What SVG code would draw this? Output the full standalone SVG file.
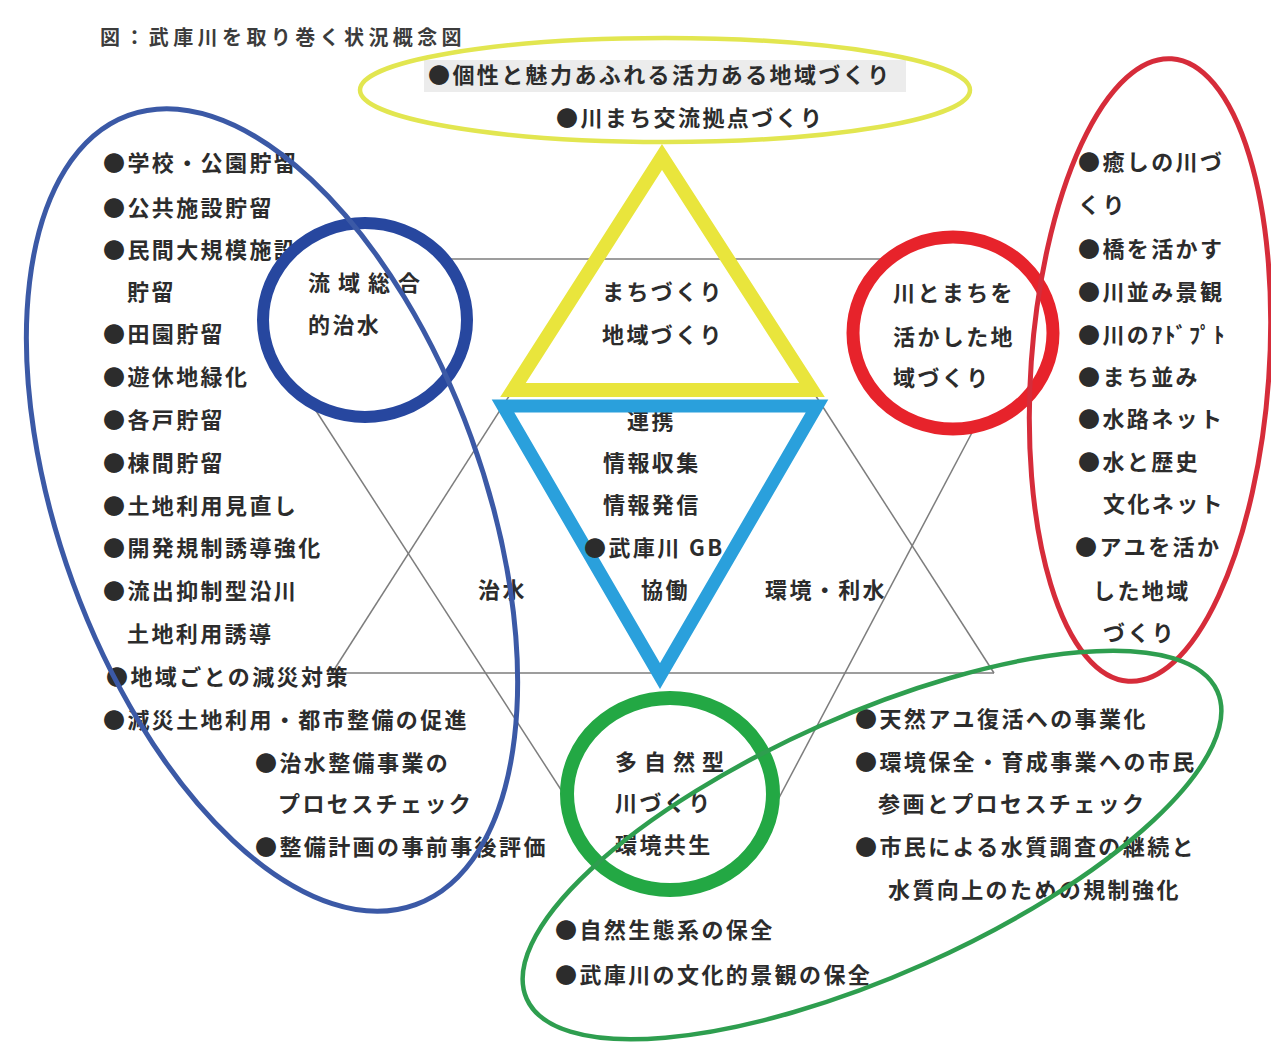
<svg xmlns="http://www.w3.org/2000/svg" width="1271" height="1048" viewBox="0 0 1271 1048">
<style>
.t{font-family:"Noto Sans CJK JP","Noto Sans CJK SC",sans-serif;font-size:22px;font-weight:bold;letter-spacing:2.4px;fill:#2c2c2c;}
.title{font-size:20px;letter-spacing:4.4px;fill:#3c3c3c;}
.wide{letter-spacing:8px;}
.ln{stroke:#7d7d7d;stroke-width:1.5;fill:none;}
.ring{fill:none;}
.fillw{fill:#fff;stroke:none;}
</style>
<rect width="1271" height="1048" fill="#fff"/>

<g id="connectors">
  <line class="ln" x1="420" y1="259" x2="905" y2="259"/>
  <line class="ln" x1="332" y1="673" x2="994" y2="673"/>
  <line class="ln" x1="332" y1="673" x2="513" y2="390"/>
  <line class="ln" x1="812" y1="390" x2="994" y2="673"/>
  <line class="ln" x1="300" y1="386" x2="587" y2="830"/>
  <line class="ln" x1="985" y1="408" x2="762" y2="830"/>
</g>

<g id="triangle-machizukuri">
  <polygon points="662,157 513,390 812,390" fill="none" stroke="#e9e53c" stroke-width="14" stroke-linejoin="miter"/>
  <text class="t" x="602" y="300">まちづくり</text>
  <text class="t" x="602" y="343">地域づくり</text>
</g>

<g id="triangle-kyodo">
  <text class="t" x="627" y="429">連携</text>
  <polygon points="503,406 817,406 660,676" fill="none" stroke="#2aa0dc" stroke-width="13" stroke-linejoin="miter"/>
  <text class="t" x="603" y="471">情報収集</text>
  <text class="t" x="603" y="513">情報発信</text>
  <text class="t" x="584" y="556">●武庫川 GB</text>
  <text class="t" x="641" y="598">協働</text>
</g>

<g id="label-chisui"><text class="t" x="478" y="598">治水</text></g>
<g id="label-kankyo"><text class="t" x="765" y="598">環境・利水</text></g>

<g id="title"><text class="t title" x="100" y="45">図：武庫川を取り巻く状況概念図</text></g>

<g id="list-left">
  <text class="t" x="103" y="171">●学校・公園貯留</text>
  <text class="t" x="103" y="216">●公共施設貯留</text>
  <text class="t" x="103" y="258">●民間大規模施設</text>
  <text class="t" x="127" y="300">貯留</text>
  <text class="t" x="103" y="342">●田園貯留</text>
  <text class="t" x="103" y="385">●遊休地緑化</text>
  <text class="t" x="103" y="428">●各戸貯留</text>
  <text class="t" x="103" y="471">●棟間貯留</text>
  <text class="t" x="103" y="514">●土地利用見直し</text>
  <text class="t" x="103" y="556">●開発規制誘導強化</text>
  <text class="t" x="103" y="599">●流出抑制型沿川</text>
  <text class="t" x="127" y="642">土地利用誘導</text>
  <text class="t" x="106" y="685">●地域ごとの減災対策</text>
  <text class="t" x="103" y="728">●減災土地利用・都市整備の促進</text>
  <text class="t" x="255" y="771">●治水整備事業の</text>
  <text class="t" x="278" y="812">プロセスチェック</text>
  <text class="t" x="255" y="855">●整備計画の事前事後評価</text>
</g>

<g id="list-right">
  <text class="t" x="1078" y="170">●癒しの川づ</text>
  <text class="t" x="1078" y="213">くり</text>
  <text class="t" x="1078" y="257">●橋を活かす</text>
  <text class="t" x="1078" y="300">●川並み景観</text>
  <text class="t" x="1078" y="343">●川のｱﾄﾞﾌﾟﾄ</text>
  <text class="t" x="1078" y="385">●まち並み</text>
  <text class="t" x="1078" y="427">●水路ネット</text>
  <text class="t" x="1078" y="470">●水と歴史</text>
  <text class="t" x="1103" y="512">文化ネット</text>
  <text class="t" x="1075" y="555">●アユを活か</text>
  <text class="t" x="1093" y="599">した地域</text>
  <text class="t" x="1103" y="641">づくり</text>
</g>

<g id="list-top">
  <rect x="424" y="60" width="482" height="32" fill="#ececec"/>
  <text class="t" x="428" y="83">●個性と魅力あふれる活力ある地域づくり</text>
  <text class="t" x="556" y="126">●川まち交流拠点づくり</text>
</g>

<g id="list-bottom-right">
  <text class="t" x="855" y="727">●天然アユ復活への事業化</text>
  <text class="t" x="855" y="770">●環境保全・育成事業への市民</text>
  <text class="t" x="878" y="812">参画とプロセスチェック</text>
  <text class="t" x="855" y="855">●市民による水質調査の継続と</text>
  <text class="t" x="888" y="898">水質向上のための規制強化</text>
</g>

<g id="list-bottom">
  <text class="t" x="555" y="938">●自然生態系の保全</text>
  <text class="t" x="555" y="983">●武庫川の文化的景観の保全</text>
</g>

<g id="circle-ryuiki">
  <ellipse class="fillw" cx="365" cy="320" rx="102" ry="97"/>
  <text class="t wide" x="308" y="291">流域総合</text>
  <text class="t" x="308" y="333">的治水</text>
  <ellipse class="ring" cx="365" cy="320" rx="102" ry="97" stroke="#27479f" stroke-width="12"/>
</g>

<g id="circle-kawatomachi">
  <ellipse class="fillw" cx="953" cy="333" rx="100" ry="96"/>
  <text class="t" x="893" y="301">川とまちを</text>
  <text class="t" x="893" y="345">活かした地</text>
  <text class="t" x="893" y="386">域づくり</text>
  <ellipse class="ring" cx="953" cy="333" rx="100" ry="96" stroke="#e7232b" stroke-width="13"/>
</g>

<g id="circle-tashizen">
  <ellipse class="fillw" cx="670" cy="794" rx="103" ry="96"/>
  <text class="t" x="615" y="770" style="letter-spacing:7px">多自然型</text>
  <text class="t" x="615" y="811">川づくり</text>
  <text class="t" x="615" y="853">環境共生</text>
  <ellipse class="ring" cx="670" cy="794" rx="103" ry="96" stroke="#23a844" stroke-width="14"/>
</g>

<g id="ellipse-yellow"><ellipse class="ring" cx="665" cy="90" rx="305" ry="52" stroke="#e2e650" stroke-width="4.5"/></g>
<g id="ellipse-blue"><ellipse class="ring" cx="0" cy="0" rx="212" ry="420" transform="translate(272,510) rotate(-20)" stroke="#3b59a6" stroke-width="5"/></g>
<g id="ellipse-red"><ellipse class="ring" cx="0" cy="0" rx="119" ry="312" transform="translate(1150,370) rotate(4)" stroke="#d62c3a" stroke-width="5"/></g>
<g id="ellipse-green"><ellipse class="ring" cx="0" cy="0" rx="378" ry="130" transform="translate(872,845) rotate(-24)" stroke="#2e9e4f" stroke-width="4.5"/></g>
</svg>
